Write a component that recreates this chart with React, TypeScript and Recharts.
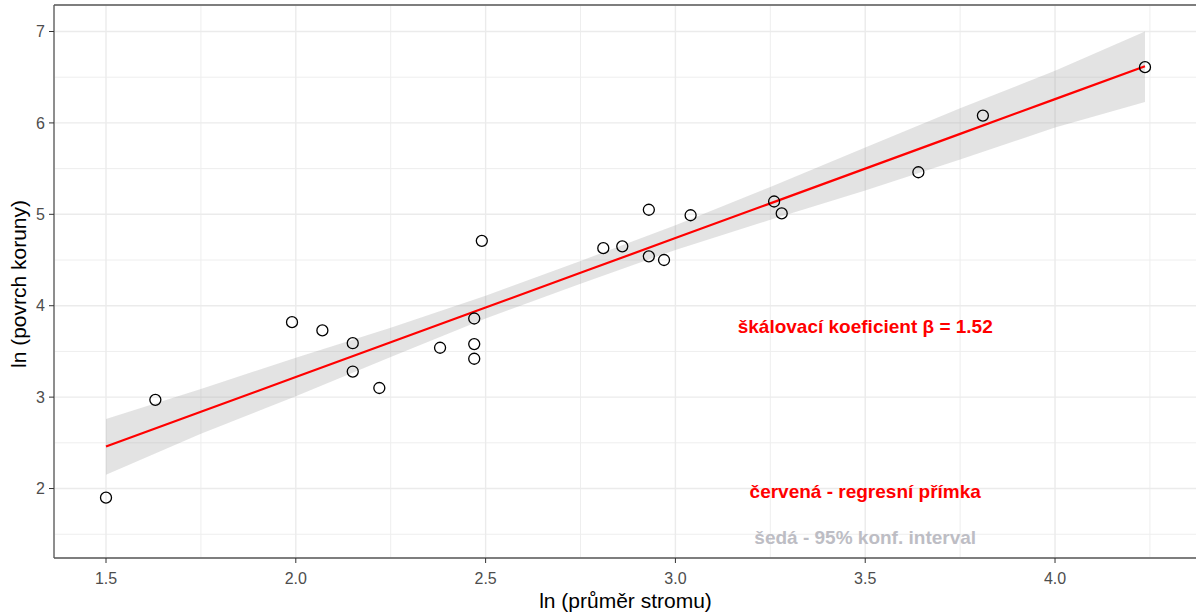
import React from "react";
import {
  ComposedChart, Area, Line, Scatter, XAxis, YAxis, CartesianGrid,
  ReferenceDot, ReferenceLine,
} from "recharts";

// measured tree data (log values)
const lnDiameter = [1.50, 1.63, 1.99, 2.07, 2.15, 2.15, 2.22, 2.38, 2.47, 2.47, 2.47, 2.49, 2.81, 2.86, 2.93, 2.93, 2.97, 3.04, 3.26, 3.28, 3.64, 3.81, 4.237];
const lnCrown = [1.90, 2.97, 3.82, 3.73, 3.59, 3.28, 3.10, 3.54, 3.86, 3.58, 3.42, 4.71, 4.63, 4.65, 5.05, 4.54, 4.50, 4.99, 5.14, 5.01, 5.46, 6.08, 6.61];

// regression line + 95% band
const bandX = [1.5, 1.75, 2.0, 2.25, 2.5, 2.75, 3.0, 3.25, 3.5, 3.75, 4.0, 4.237];
const fitY = [2.46, 2.84, 3.22, 3.60, 3.98, 4.36, 4.74, 5.12, 5.50, 5.88, 6.26, 6.62];
const bandLo = [2.15, 2.60, 3.01, 3.44, 3.86, 4.24, 4.61, 4.94, 5.26, 5.60, 5.95, 6.23];
const bandHi = [2.76, 3.09, 3.43, 3.76, 4.11, 4.49, 4.88, 5.30, 5.73, 6.16, 6.57, 7.00];

const xMajor = [1.5, 2.0, 2.5, 3.0, 3.5, 4.0];
const xMinor = [1.75, 2.25, 2.75, 3.25, 3.75, 4.25];
const yMajor = [2, 3, 4, 5, 6, 7];
const yMinor = [1.5, 2.5, 3.5, 4.5, 5.5, 6.5];

const X_DOMAIN: [number, number] = [1.363, 4.374];
const Y_DOMAIN: [number, number] = [1.24, 7.29];

const points = lnDiameter.map((x, i) => ({ x, y: lnCrown[i] }));
const bandRows = bandX.map((x, i) => ({ x, fit: fitY[i], band: [bandLo[i], bandHi[i]] }));

const FONT = "'Liberation Sans', Arial, sans-serif";
const BORDER = "#595959";

export default function App() {
  return (
    <div style={{ position: "absolute", left: 0, top: 0, width: 1196, height: 615, overflow: "hidden", background: "#fff", fontFamily: FONT }}>
      <ComposedChart width={1197} height={615} data={bandRows} margin={{ top: 5, right: 0, bottom: 0, left: 0 }}>
        {/* hidden axes only used for the minor grid */}
        <XAxis xAxisId="minor" dataKey="x" type="number" domain={X_DOMAIN} ticks={xMinor} hide allowDataOverflow />
        <YAxis yAxisId="minor" type="number" domain={Y_DOMAIN} ticks={yMinor} hide allowDataOverflow />
        <CartesianGrid xAxisId="minor" yAxisId="minor" stroke="#eeeeee" strokeWidth={1} />
        <CartesianGrid stroke="#ebebeb" strokeWidth={1.4} />
        <XAxis
          dataKey="x" type="number" domain={X_DOMAIN} ticks={xMajor} allowDataOverflow
          height={57} tickSize={5} tickMargin={10}
          tickFormatter={(v: number) => v.toFixed(1)}
          tick={{ fill: "#4d4d4d", fontSize: 16, fontFamily: FONT }}
          axisLine={{ stroke: BORDER, strokeWidth: 1.3 }}
          tickLine={{ stroke: "#333" }}
        />
        <YAxis
          type="number" domain={Y_DOMAIN} ticks={yMajor} allowDataOverflow
          width={54} tickSize={5} tickMargin={4}
          tick={{ fill: "#4d4d4d", fontSize: 16, fontFamily: FONT }}
          axisLine={{ stroke: BORDER, strokeWidth: 1.3 }}
          tickLine={{ stroke: "#333" }}
        />
        <ReferenceLine y={Y_DOMAIN[1]} stroke={BORDER} strokeWidth={1.3} />
        <Area dataKey="band" type="linear" stroke="none" fill="#999999" fillOpacity={0.28} isAnimationActive={false} />
        <Line dataKey="fit" type="linear" stroke="#ff0000" strokeWidth={2.2} dot={false} isAnimationActive={false} />
        <Scatter
          data={points} dataKey="y" isAnimationActive={false}
          shape={(p: any) => <circle cx={p.cx} cy={p.cy} r={5.5} fill="none" stroke="#000" strokeWidth={1.3} />}
        />
        <ReferenceDot x={3.5} y={3.78} r={0} stroke="none"
          label={{ value: "škálovací koeficient β = 1.52", position: "center", fill: "#ff0000", fontSize: 19, fontWeight: "bold", fontFamily: FONT }} />
        <ReferenceDot x={3.5} y={1.97} r={0} stroke="none"
          label={{ value: "červená - regresní přímka", position: "center", fill: "#ff0000", fontSize: 19, fontWeight: "bold", fontFamily: FONT }} />
        <ReferenceDot x={3.5} y={1.47} r={0} stroke="none"
          label={{ value: "šedá - 95% konf. interval", position: "center", fill: "#bdbdc4", fontSize: 19, fontWeight: "bold", fontFamily: FONT }} />
      </ComposedChart>
      <div style={{ position: "absolute", left: 0, width: 1251, top: 589, textAlign: "center", fontSize: 21, lineHeight: "24px", color: "#000" }}>
        ln (průměr stromu)
      </div>
      <div style={{ position: "absolute", left: 19, top: 284, width: 0, height: 0 }}>
        <div style={{ position: "absolute", left: -150, top: -12, width: 300, textAlign: "center", fontSize: 21, lineHeight: "24px", color: "#000", transform: "rotate(-90deg)", whiteSpace: "nowrap" }}>
          ln (povrch koruny)
        </div>
      </div>
    </div>
  );
}
